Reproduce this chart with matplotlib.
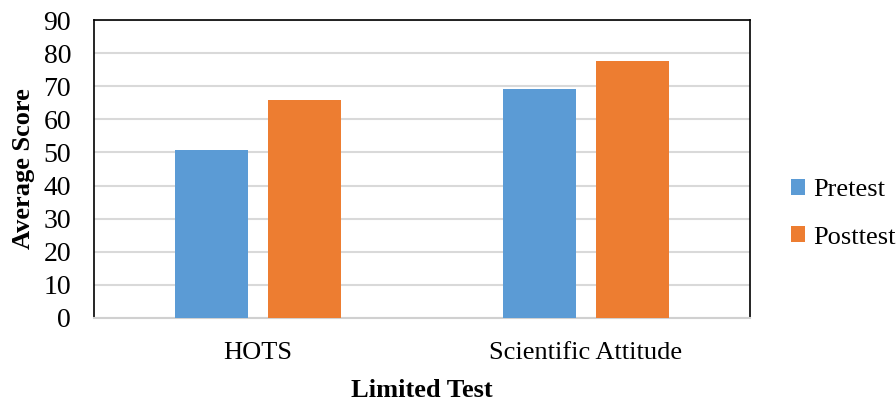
import numpy as np
import matplotlib.pyplot as plt

plt.rcParams['font.family'] = ['Liberation Serif', 'DejaVu Serif']

# data
categories = ['HOTS', 'Scientific Attitude']
pretest = [50.7, 69.2]
posttest = [65.9, 77.7]

fig = plt.figure(figsize=(8.96, 4.01), dpi=100)
ax = fig.add_axes([0.105, 0.207, 0.732, 0.743])

x = np.arange(len(categories))
w = 0.2226
off = 0.142
ax.bar(x - off, pretest, w, color='#5B9BD5', label='Pretest', zorder=3)
ax.bar(x + off, posttest, w, color='#ED7D31', label='Posttest', zorder=3)

ax.set_xlim(-0.5, 1.5)
ax.set_ylim(0, 90)
ax.set_yticks(np.arange(0, 91, 10))
ax.set_xticks(x)
ax.set_xticklabels(categories)
ax.tick_params(axis='both', length=0, labelsize=19, colors='#000000')
ax.tick_params(axis='x', pad=17)
ax.tick_params(axis='y', pad=16.5, labelsize=20)
ax.yaxis.grid(True, color='#D9D9D9', linewidth=1.5, zorder=0)

for s in ['left', 'top', 'right']:
    ax.spines[s].set_color('black')
    ax.spines[s].set_linewidth(1.2)
ax.spines['bottom'].set_color('#D0D0D0')
ax.spines['bottom'].set_linewidth(1.5)

ax.set_xlabel('Limited Test', fontsize=19, fontweight='bold', labelpad=11)
ax.set_ylabel('Average Score', fontsize=19, fontweight='bold', labelpad=6)

ax.legend(loc='center left', bbox_to_anchor=(1.062, 0.35), frameon=False,
          prop={'family': 'Liberation Serif', 'size': 19},
          handlelength=0.55, handleheight=0.55, handletextpad=0.3,
          labelspacing=0.95, borderpad=0, borderaxespad=0)

plt.savefig('out.png', dpi=100)
